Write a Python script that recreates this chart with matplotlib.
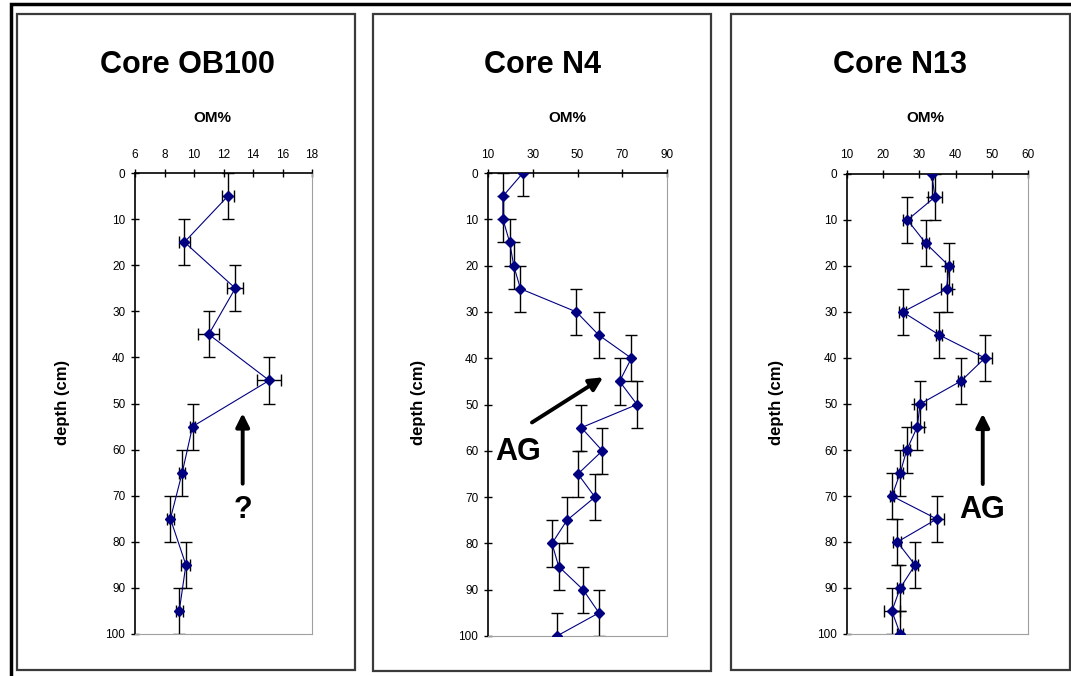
import numpy as np
import matplotlib.pyplot as plt
from matplotlib.patches import Rectangle

plt.rcParams['font.family'] = ['Liberation Sans', 'DejaVu Sans']

# Core OB100
ob_depth = [5, 15, 25, 35, 45, 55, 65, 75, 85, 95]
ob_om = [12.3, 9.35, 12.8, 11.0, 15.1, 9.9, 9.2, 8.4, 9.45, 9.0]
ob_xerr = [0.42, 0.4, 0.53, 0.7, 0.8, 0.2, 0.2, 0.25, 0.3, 0.25]

# Core N4
n4_depth = list(range(0, 101, 5))
n4_om = [25.6, 16.7, 16.7, 19.7, 21.5, 24.5, 49.5, 59.5, 74.1, 68.8, 76.6,
         51.7, 61.1, 50.2, 57.8, 45.3, 38.6, 41.6, 52.5, 59.6, 40.8]

# Core N13
n13_depth = list(range(0, 101, 5))
n13_om = [33.4, 34.3, 26.7, 31.7, 38.2, 37.5, 25.4, 35.5, 48.1, 41.5, 30.2,
          29.4, 26.5, 24.7, 22.4, 34.8, 23.9, 28.8, 24.7, 22.4, 24.7]
n13_xerr = [0.3, 1.9, 1.1, 0.9, 1.1, 1.6, 0.9, 0.8, 2.0, 0.8, 1.6,
            1.8, 0.9, 0.9, 0.6, 2.0, 1.1, 0.9, 0.9, 2.3, 0.8]

W, H = 1071, 676
fig = plt.figure(figsize=(W / 100, H / 100), dpi=100)


def fx(px):
    return px / W


def fy(py):
    return 1 - py / H


# outer border (only top and left visible) and panel frames
fig.patches.append(Rectangle((fx(11), fy(700)), fx(1100) - fx(11), fy(4) - fy(700),
                             transform=fig.transFigure, fill=False, ec='black', lw=2.5))
for x0, x1, y1 in [(17, 355, 670), (373, 711, 671), (731, 1070, 670)]:
    fig.patches.append(Rectangle((fx(x0), fy(y1)), fx(x1) - fx(x0), fy(14) - fy(y1),
                                 transform=fig.transFigure, fill=False, ec='#3a3a3a', lw=1.6))


def panel(rect, depth, om, xerr, xlim, xticks, title, tx, omx, dx):
    ax = fig.add_axes(rect)
    ax.errorbar(om, depth, yerr=5, xerr=xerr, fmt='none', ecolor='black',
                elinewidth=1, capsize=4, capthick=1, zorder=2)
    ax.plot(om, depth, '-', color='#000080', lw=0.8, marker='D', ms=5.5,
            mfc='#000080', mec='#000080', zorder=3)
    ax.set_xlim(*xlim)
    ax.set_ylim(100, 0)
    ax.set_xticks(xticks)
    ax.set_yticks(range(0, 101, 10))
    ax.xaxis.tick_top()
    ax.tick_params(direction='inout', length=6, width=1, labelsize=8.5, pad=4)
    ax.tick_params(axis='x', pad=6)
    ax.spines['left'].set_color('black')
    ax.spines['top'].set_color('black')
    ax.spines['left'].set_linewidth(1.2)
    ax.spines['top'].set_linewidth(1.2)
    ax.spines['right'].set_color('#a0a0a0')
    ax.spines['bottom'].set_color('#a0a0a0')
    fig.text(fx(tx), fy(65), title, ha='center', va='center', fontsize=22, fontweight='bold')
    fig.text(fx(omx), fy(118), 'OM%', ha='center', va='center', fontsize=11, fontweight='bold')
    fig.text(fx(dx), fy(402), 'depth (cm)', ha='center', va='center', rotation=90,
             fontsize=12, fontweight='bold')
    return ax


ax1 = panel([fx(135), fy(634), fx(312) - fx(135), fy(173) - fy(634)],
            ob_depth, ob_om, ob_xerr, (6, 18), range(6, 19, 2),
            'Core OB100', 187, 212, 63)
ax2 = panel([fx(488), fy(636), fx(667) - fx(488), fy(173) - fy(636)],
            n4_depth, n4_om, None, (10, 90), range(10, 91, 20),
            'Core N4', 542, 567, 418)
ax3 = panel([fx(847), fy(634), fx(1028) - fx(847), fy(174) - fy(634)],
            n13_depth, n13_om, n13_xerr, (10, 60), range(10, 61, 10),
            'Core N13', 900, 925, 777)

arrow = dict(arrowstyle='-|>', lw=2.8, color='black', mutation_scale=20)
ax1.annotate('', xy=(13.3, 51.5), xytext=(13.3, 68), arrowprops=arrow)
ax1.text(13.3, 73, '?', ha='center', va='center', fontsize=22, fontweight='bold')
ax2.annotate('', xy=(62.5, 43.8), xytext=(28.6, 54.2), arrowprops=arrow)
ax2.text(23.3, 60.3, 'AG', ha='center', va='center', fontsize=22, fontweight='bold')
ax3.annotate('', xy=(47.5, 51.5), xytext=(47.5, 68), arrowprops=arrow)
ax3.text(47.3, 73, 'AG', ha='center', va='center', fontsize=22, fontweight='bold')

fig.savefig('out.png', dpi=100)
